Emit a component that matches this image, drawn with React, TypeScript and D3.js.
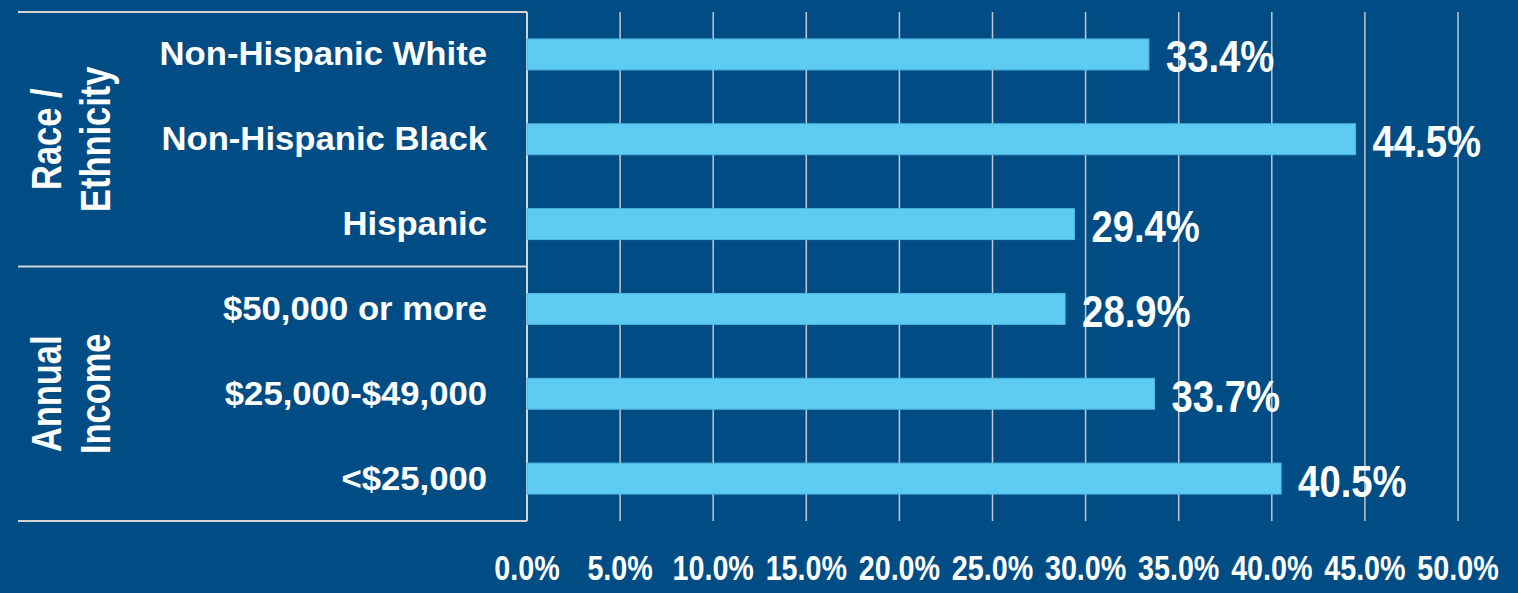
import React from "react";
import * as d3 from "d3";

const categories = [
  "Non-Hispanic White",
  "Non-Hispanic Black",
  "Hispanic",
  "$50,000 or more",
  "$25,000-$49,000",
  "<$25,000",
];
const values = [33.4, 44.5, 29.4, 28.9, 33.7, 40.5];
const ticks = [0, 5, 10, 15, 20, 25, 30, 35, 40, 45, 50];
const groups = [
  { lines: ["Race /", "Ethnicity"], from: 0, to: 3 },
  { lines: ["Annual", "Income"], from: 3, to: 6 },
];

const W = 1518;
const H = 593;
const BG = "#004d86";
const BAR = "#5ecbf3";
const FONT = "'Liberation Sans', Arial, sans-serif";

export default function App() {
  const x = d3.scaleLinear().domain([0, 50]).range([527, 1458]);
  const top = 12;
  const bottom = 521;
  const p = 0.635;
  const y = d3
    .scaleBand<string>()
    .domain(categories)
    .range([top, bottom])
    .paddingInner(p)
    .paddingOuter(p / 2);
  const step = y.step();
  const tableLeft = 18;
  const lineColor = "#d4d4d4";

  return (
    <svg
      width={W}
      height={H}
      style={{ position: "absolute", left: 0, top: 0, display: "block" }}
      fontFamily={FONT}
    >
      <rect x={0} y={0} width={W} height={H} fill={BG} />
      {/* gridlines */}
      {ticks.map((t) => (
        <line
          key={"g" + t}
          x1={x(t)}
          x2={x(t)}
          y1={top}
          y2={bottom}
          stroke="#c4c8cc"
          strokeWidth={1.5}
        />
      ))}
      {/* table lines */}
      <line x1={tableLeft} x2={527} y1={top} y2={top} stroke={lineColor} strokeWidth={2} />
      <line
        x1={tableLeft}
        x2={527}
        y1={top + step * 3}
        y2={top + step * 3}
        stroke={lineColor}
        strokeWidth={2}
      />
      <line x1={tableLeft} x2={527} y1={bottom} y2={bottom} stroke={lineColor} strokeWidth={2} />
      <line x1={527} x2={527} y1={top} y2={bottom} stroke={lineColor} strokeWidth={2} />
      {/* bars */}
      {categories.map((c, i) => (
        <rect
          key={"b" + c}
          x={x(0)}
          y={y(c)!}
          width={x(values[i]) - x(0)}
          height={y.bandwidth()}
          fill={BAR}
          stroke="#4fb6e0"
          strokeWidth={1}
        />
      ))}
      {/* value labels */}
      {categories.map((c, i) => {
        const cy = y(c)! + y.bandwidth() / 2;
        return (
          <text
            key={"v" + c}
            transform={`translate(${x(values[i]) + 17},${cy + 18}) scale(0.85,1)`}
            fill="#fff"
            fontWeight="bold"
            fontSize={45}
          >
            {values[i].toFixed(1) + "%"}
          </text>
        );
      })}
      {/* category labels */}
      {categories.map((c) => {
        const cy = y(c)! + y.bandwidth() / 2;
        return (
          <text
            key={"c" + c}
            transform={`translate(487,${cy + 11}) scale(1.02,1)`}
            textAnchor="end"
            fill="#fff"
            fontWeight="bold"
            fontSize={34}
          >
            {c}
          </text>
        );
      })}
      {/* group labels */}
      {groups.map((g) => {
        const cy = top + step * ((g.from + g.to) / 2);
        return g.lines.map((ln, j) => (
          <text
            key={"gl" + ln}
            transform={`translate(${61 + j * 49},${cy}) rotate(-90) scale(0.82,1)`}
            textAnchor="middle"
            fill="#fff"
            fontWeight="bold"
            fontSize={42}
          >
            {ln}
          </text>
        ));
      })}
      {/* tick labels */}
      {ticks.map((t) => (
        <text
          key={"t" + t}
          transform={`translate(${x(t)},580) scale(0.82,1)`}
          textAnchor="middle"
          fill="#fff"
          fontWeight="bold"
          fontSize={35}
        >
          {t.toFixed(1) + "%"}
        </text>
      ))}
    </svg>
  );
}
